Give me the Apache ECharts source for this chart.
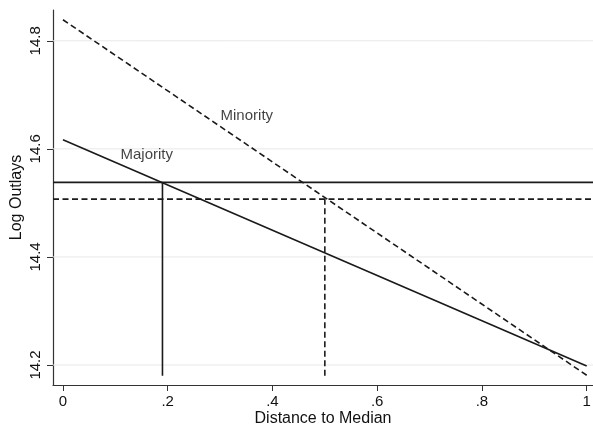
<!DOCTYPE html>
<html>
<head>
<meta charset="utf-8">
<script src="https://cdn.jsdelivr.net/npm/echarts@6/dist/echarts.min.js"></script>
<style>html,body{margin:0;padding:0;background:#fff}#c{width:593px;height:425px}</style>
</head>
<body>
<div id="c"></div>
<script>
// Data
const xEnds = [0, 1];
const majority = [14.617, 14.198];
const minority = [14.839, 14.181];
const majorityMedian = [0.19, 14.538];
const minorityMedian = [0.5, 14.507];
const refBottom = 14.18;
const xTicks = [0, 0.2, 0.4, 0.6, 0.8, 1];
const xTickLabels = ['0', '.2', '.4', '.6', '.8', '1'];
const yTicks = [14.2, 14.4, 14.6, 14.8];
const yTickLabels = ['14.2', '14.4', '14.6', '14.8'];
const labels = [
  { name: 'Minority', x: 0.351, y: 14.661 },
  { name: 'Majority', x: 0.16, y: 14.588 }
];

const xMin = -0.019, xMax = 1.012;
const yMin = 14.163, yMax = 14.857;
const FONT = '"Liberation Sans", Arial, sans-serif';
const INK = '#1a1a1a';
const DASH = [6, 3.5];
const LW = 1.6;

const chart = echarts.init(document.getElementById('c'), null, { renderer: 'canvas' });

const series = [];
// gridlines
yTicks.forEach(v => {
  series.push({
    type: 'line', silent: true, symbol: 'none', z: 1,
    data: [[xMin, v], [xMax, v]],
    lineStyle: { color: '#e8e8e8', width: 1 }
  });
});
// Majority and minority fitted lines
series.push({
  type: 'line', symbol: 'none', z: 5,
  data: xEnds.map((x, i) => [x, majority[i]]),
  lineStyle: { color: INK, width: LW, type: 'solid' }
});
series.push({
  type: 'line', symbol: 'none', z: 5,
  data: xEnds.map((x, i) => [x, minority[i]]),
  lineStyle: { color: INK, width: LW, type: DASH }
});
// horizontal reference lines
series.push({
  type: 'line', symbol: 'none', z: 4,
  data: [[xMin, majorityMedian[1]], [xMax, majorityMedian[1]]],
  lineStyle: { color: INK, width: LW, type: 'solid' }
});
series.push({
  type: 'line', symbol: 'none', z: 4,
  data: [[xMin, minorityMedian[1]], [xMax, minorityMedian[1]]],
  lineStyle: { color: INK, width: LW, type: DASH }
});
// vertical reference lines
series.push({
  type: 'line', symbol: 'none', z: 4,
  data: [[majorityMedian[0], refBottom], [majorityMedian[0], majorityMedian[1]]],
  lineStyle: { color: INK, width: LW, type: 'solid' }
});
series.push({
  type: 'line', symbol: 'none', z: 4,
  data: [[minorityMedian[0], refBottom], [minorityMedian[0], minorityMedian[1]]],
  lineStyle: { color: INK, width: LW, type: DASH }
});
// text labels
series.push({
  type: 'scatter', symbolSize: 0, z: 6, silent: true,
  data: labels.map(l => ({ value: [l.x, l.y], name: l.name })),
  label: {
    show: true, position: 'inside', formatter: p => p.name,
    fontFamily: FONT, fontSize: 15, color: '#111', textBorderWidth: 0
  }
});

chart.setOption({
  animation: false,
  backgroundColor: '#fff',
  grid: { left: 53, right: 0, top: 10, bottom: 40, containLabel: false, outerBoundsMode: 'none' },
  xAxis: {
    type: 'value', min: xMin, max: xMax,
    name: 'Distance to Median', nameLocation: 'middle', nameGap: 26, nameMoveOverlap: false,
    nameTextStyle: { fontFamily: FONT, fontSize: 16, color: '#111' },
    axisLine: { show: true, onZero: false, lineStyle: { color: '#333', width: 1.2 } },
    axisTick: { show: true, length: 6, customValues: xTicks, lineStyle: { color: '#333' } },
    axisLabel: {
      customValues: xTicks, margin: 9,
      formatter: v => xTickLabels[xTicks.findIndex(t => Math.abs(t - v) < 1e-9)] ?? '',
      fontFamily: FONT, fontSize: 15, color: '#111'
    },
    splitLine: { show: false }
  },
  yAxis: {
    type: 'value', min: yMin, max: yMax,
    name: 'Log Outlays', nameLocation: 'middle', nameGap: 28.5, nameMoveOverlap: false,
    nameTextStyle: { fontFamily: FONT, fontSize: 16, color: '#111' },
    axisLine: { show: true, onZero: false, lineStyle: { color: '#333', width: 1.2 } },
    axisTick: { show: true, length: 6, customValues: yTicks, lineStyle: { color: '#333' } },
    axisLabel: {
      customValues: yTicks, rotate: 90, margin: 10,
      formatter: v => yTickLabels[yTicks.findIndex(t => Math.abs(t - v) < 1e-9)] ?? '',
      fontFamily: FONT, fontSize: 15, color: '#111'
    },
    splitLine: { show: false }
  },
  series
});
</script>
</body>
</html>
